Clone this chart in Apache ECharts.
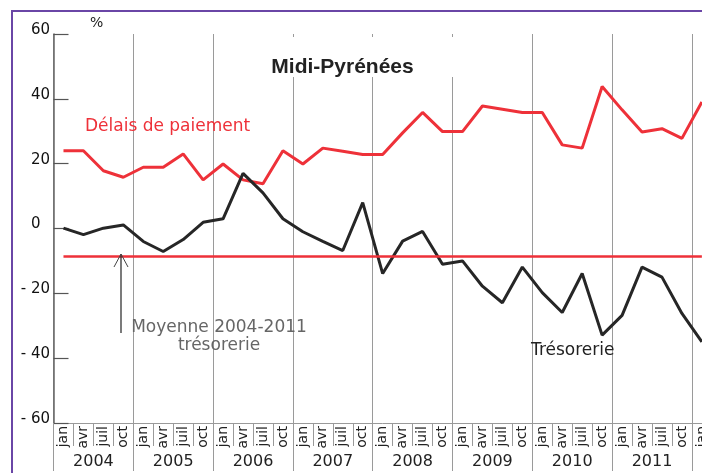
<!DOCTYPE html>
<html>
<head>
<meta charset="utf-8">
<script src="https://cdn.jsdelivr.net/npm/echarts@6/dist/echarts.min.js"></script>
<style>
  html,body{margin:0;padding:0;background:#fff;overflow:hidden;}
  #main{width:820px;height:473px;}
</style>
</head>
<body>
<div id="main"></div>
<script>
// trimestres (jan, avr, juil, oct) de 2004 à jan 2012
var trimestres = [
  'jan 2004','avr 2004','juil 2004','oct 2004',
  'jan 2005','avr 2005','juil 2005','oct 2005',
  'jan 2006','avr 2006','juil 2006','oct 2006',
  'jan 2007','avr 2007','juil 2007','oct 2007',
  'jan 2008','avr 2008','juil 2008','oct 2008',
  'jan 2009','avr 2009','juil 2009','oct 2009',
  'jan 2010','avr 2010','juil 2010','oct 2010',
  'jan 2011','avr 2011','juil 2011','oct 2011',
  'jan 2012'
];
var annees = ['2004','2005','2006','2007','2008','2009','2010','2011','2012'];
var yTicks = [-60,-40,-20,0,20,40,60];

// Délais de paiement (%)
var delais = [
  24, 24, 17.8, 15.8,
  18.9, 18.9, 23, 15,
  19.9, 15, 13.8, 24,
  19.9, 24.8, 23.8, 22.8,
  22.8, 29.5, 35.8, 29.9,
  29.9, 37.8, 36.8, 35.8,
  35.8, 25.8, 24.8, 43.8,
  36.6, 29.8, 30.8, 27.8,
  39
];
// Trésorerie (%)
var tresorerie = [
  0.1, -1.9, 0.1, 1.1,
  -4, -7.1, -3.4, 1.9,
  3, 17, 11, 3,
  -1, -4, -6.8, 8,
  -13.9, -3.9, -0.9, -11,
  -10, -17.8, -22.9, -11.9,
  -19.8, -25.9, -13.9, -32.9,
  -26.8, -11.9, -15, -26.2,
  -35
];
// Moyenne 2004-2011 trésorerie
var moyenneTreso = -8.5;

var ROUGE = '#ee3139';
var NOIR = '#262626';
var GRIS = '#9a9a9a';
var FONT = 'DejaVu Sans';
var catW = 19.95;

var chart = echarts.init(document.getElementById('main'));
chart.setOption({
  animation: false,
  backgroundColor: '#fff',
  grid: [
    {left: 53.5, top: 34, width: catW * trimestres.length, height: 389, outerBoundsMode: 'none'},
    {left: 53.5, top: 34, width: catW * 4 * annees.length, height: 389, outerBoundsMode: 'none'}
  ],
  xAxis: [{
    type: 'category',
    gridIndex: 0,
    data: trimestres,
    boundaryGap: true,
    axisLine: {onZero: false, lineStyle: {color: GRIS, width: 1}},
    axisTick: {show: true, interval: 0, length: 23, lineStyle: {color: GRIS}},
    axisLabel: {
      interval: 0, rotate: 90, margin: 3,
      fontSize: 14, fontFamily: FONT, color: '#222',
      formatter: function (v) { return v.split(' ')[0]; }
    },
    splitLine: {show: false}
  }, {
    type: 'category',
    gridIndex: 1,
    data: annees,
    boundaryGap: true,
    axisLine: {show: false, onZero: false},
    axisTick: {show: true, interval: 0, length: 48, lineStyle: {color: GRIS}},
    axisLabel: {interval: 0, margin: 31, fontSize: 16, fontFamily: FONT, color: '#222'},
    splitLine: {show: true, interval: 0, lineStyle: {color: GRIS, width: 1}}
  }],
  yAxis: [{
    type: 'value',
    gridIndex: 0,
    min: yTicks[0], max: yTicks[yTicks.length - 1], interval: 20,
    axisLine: {show: true, lineStyle: {color: '#666', width: 1.5}},
    axisTick: {show: true, inside: true, length: 15, lineStyle: {color: '#555', width: 1.2}},
    axisLabel: {
      margin: 3.5,
      padding: [0, 0, 8, 0],
      color: '#111', fontSize: 15, fontFamily: FONT,
      formatter: function (v) {
        return v < 0 ? '- {v|' + (-v) + '}' : '{v|' + v + '}';
      },
      rich: {v: {width: 19, align: 'left', fontSize: 15, fontFamily: FONT, color: '#111'}}
    },
    splitLine: {show: false}
  }, {
    type: 'value',
    gridIndex: 1,
    min: -60, max: 60,
    show: false
  }],
  series: [{
    name: 'Délais de paiement',
    type: 'line',
    xAxisIndex: 0, yAxisIndex: 0,
    data: delais,
    symbol: 'none',
    z: 4,
    lineStyle: {color: ROUGE, width: 3}
  }, {
    name: 'Trésorerie',
    type: 'line',
    xAxisIndex: 0, yAxisIndex: 0,
    data: tresorerie,
    symbol: 'none',
    z: 4,
    lineStyle: {color: NOIR, width: 3},
    markLine: {
      silent: true,
      symbol: 'none',
      label: {show: false},
      lineStyle: {color: ROUGE, width: 2.5, type: 'solid'},
      data: [[
        {coord: [trimestres[0], moyenneTreso]},
        {coord: [trimestres[trimestres.length - 1], moyenneTreso]}
      ]]
    }
  }],
  graphic: [
    // cadre violet
    {type: 'rect', z: 1, shape: {x: 12, y: 11, width: 900, height: 600},
      style: {fill: 'none', stroke: '#6a46a6', lineWidth: 2}},
    // fond blanc sous le titre
    {type: 'rect', z: 10, shape: {x: 240, y: 37, width: 230, height: 40},
      style: {fill: '#fff'}},
    {type: 'text', z: 11, x: 342.5, y: 57,
      style: {text: 'Midi-Pyrénées', font: 'bold 21px "Liberation Sans", Arial, sans-serif',
        fill: '#222', align: 'center', verticalAlign: 'top'}},
    {type: 'text', z: 11, x: 90, y: 16,
      style: {text: '%', font: '14px "DejaVu Sans"', fill: '#222', verticalAlign: 'top'}},
    {type: 'text', z: 11, x: 85, y: 118,
      style: {text: 'Délais de paiement', font: '17px "DejaVu Sans"', fill: ROUGE, verticalAlign: 'top'}},
    {type: 'text', z: 11, x: 219, y: 319,
      style: {text: 'Moyenne 2004-2011\ntrésorerie', font: '17px "DejaVu Sans"', lineHeight: 18,
        fill: '#666', align: 'center', verticalAlign: 'top'}},
    {type: 'text', z: 11, x: 531, y: 342.5,
      style: {text: 'Trésorerie', font: '17px "DejaVu Sans"', fill: '#222', verticalAlign: 'top'}},
    // flèche vers la moyenne
    {type: 'polyline', z: 11, shape: {points: [[121, 333], [121, 254]]},
      style: {stroke: '#222', lineWidth: 1.2, fill: 'none'}},
    {type: 'polyline', z: 11, shape: {points: [[114, 267], [121, 254], [128, 267]]},
      style: {stroke: '#444', lineWidth: 1, fill: 'none'}}
  ]
});
</script>
</body>
</html>
